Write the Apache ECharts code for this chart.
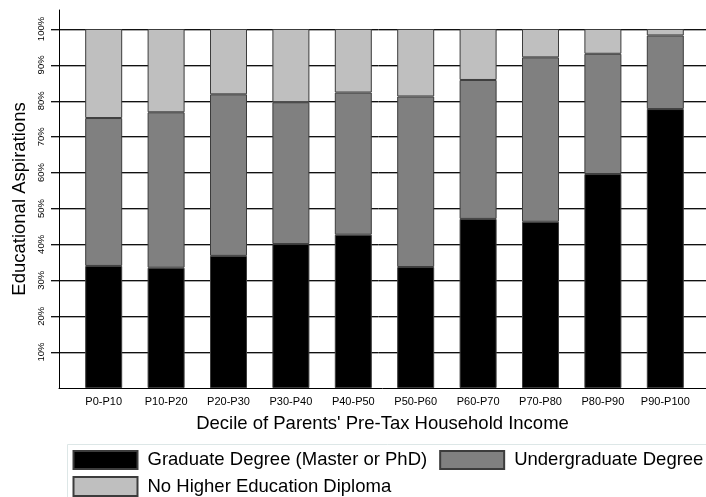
<!DOCTYPE html>
<html>
<head>
<meta charset="utf-8">
<script src="https://cdn.jsdelivr.net/npm/echarts@6/dist/echarts.min.js"></script>
<style>html,body{margin:0;padding:0;background:#fff}#c{width:706px;height:497px}</style>
</head>
<body>
<div id="c"></div>
<script>
var categories = ['P0-P10','P10-P20','P20-P30','P30-P40','P40-P50','P50-P60','P60-P70','P70-P80','P80-P90','P90-P100'];
var graduate = [34.0, 33.5, 36.8, 40.1, 42.7, 33.7, 47.1, 46.3, 59.6, 77.7];
var undergraduate = [41.2, 43.3, 45.0, 39.5, 39.6, 47.5, 38.7, 45.8, 33.5, 20.5];
var noHigher = [24.8, 23.2, 18.2, 20.4, 17.7, 18.8, 14.2, 7.9, 6.9, 1.8];
var seriesNames = ['Graduate Degree (Master or PhD)', 'Undergraduate Degree', 'No Higher Education Diploma'];
var yTickValues = [10,20,30,40,50,60,70,80,90,100];

var FONT = 'Liberation Sans, Arial, Helvetica, sans-serif';
var chart = echarts.init(document.getElementById('c'), null, {renderer: 'canvas'});
var barBorder = {borderColor: '#3c3c3c', borderWidth: 1};
var option = {
  animation: false,
  backgroundColor: '#fff',
  textStyle: {fontFamily: FONT},
  grid: [
    {left: 51, right: 0, top: 29, bottom: 109},
    {left: 59, right: 0, top: 10, bottom: 109},
    {left: 72.5, width: 624, top: 29, bottom: 109}
  ],
  xAxis: [
    {gridIndex: 0, type: 'value', show: false, min: 0, max: 1},
    {gridIndex: 1, type: 'value', min: 0, max: 1,
     axisLine: {show: true, lineStyle: {color: '#000', width: 1}},
     axisTick: {show: false}, axisLabel: {show: false}, splitLine: {show: false},
     name: "Decile of Parents' Pre-Tax Household Income", nameLocation: 'middle', nameGap: 26,
     nameTextStyle: {fontSize: 18.5, color: '#000', fontFamily: FONT}},
    {gridIndex: 2, type: 'category', data: categories, boundaryGap: true,
     axisLine: {show: false}, axisTick: {show: false},
     axisLabel: {fontSize: 11, color: '#000', margin: 8, fontFamily: FONT, interval: 0}}
  ],
  yAxis: [
    {gridIndex: 0, type: 'value', min: 0, max: 100, interval: 10,
     axisLine: {show: false}, axisTick: {show: false},
     axisLabel: {rotate: 90, fontSize: 9.5, color: '#000', margin: 5, fontFamily: FONT,
       formatter: function (v) { return yTickValues.indexOf(v) >= 0 ? v + '%' : ''; }},
     splitLine: {show: true, showMinLine: false,
       lineStyle: {color: '#111', width: 1, shadowColor: '#aaaaaa', shadowOffsetY: 1, shadowBlur: 0}}},
    {gridIndex: 1, type: 'value', min: 0, max: 105.3,
     axisLine: {show: true, lineStyle: {color: '#000', width: 1}},
     axisTick: {show: false}, axisLabel: {show: false}, splitLine: {show: false},
     name: 'Educational Aspirations', nameLocation: 'middle', nameGap: 30,
     nameTextStyle: {fontSize: 18.5, color: '#000', fontFamily: FONT}},
    {gridIndex: 2, type: 'value', min: 0, max: 100, show: false}
  ],
  legend: [
    {data: [seriesNames[0], seriesNames[1]], left: 72.5, top: 450, padding: 0, orient: 'horizontal',
     icon: 'rect', itemWidth: 64, itemHeight: 18, itemGap: 12,
     textStyle: {fontSize: 18.5, color: '#000', fontFamily: FONT, padding: [0, 0, 0, 5]}},
    {data: [seriesNames[2]], left: 72.5, top: 476, padding: 0,
     icon: 'rect', itemWidth: 64, itemHeight: 19, itemGap: 12,
     textStyle: {fontSize: 18.5, color: '#000', fontFamily: FONT, padding: [0, 0, 0, 5]}}
  ],
  graphic: [
    {type: 'rect', left: 65, top: 442, z: -1, shape: {width: 700, height: 80},
     style: {fill: 'none', stroke: '#dde7e7', lineWidth: 1}}
  ],
  series: [
    {name: seriesNames[0], type: 'bar', stack: 'a', xAxisIndex: 2, yAxisIndex: 2, barWidth: 37,
     data: graduate, itemStyle: Object.assign({color: '#000000'}, barBorder)},
    {name: seriesNames[1], type: 'bar', stack: 'a', xAxisIndex: 2, yAxisIndex: 2, barWidth: 37,
     data: undergraduate, itemStyle: Object.assign({color: '#808080'}, barBorder)},
    {name: seriesNames[2], type: 'bar', stack: 'a', xAxisIndex: 2, yAxisIndex: 2, barWidth: 37,
     data: noHigher, itemStyle: Object.assign({color: '#bfbfbf'}, barBorder)}
  ]
};
chart.setOption(option);
</script>
</body>
</html>
